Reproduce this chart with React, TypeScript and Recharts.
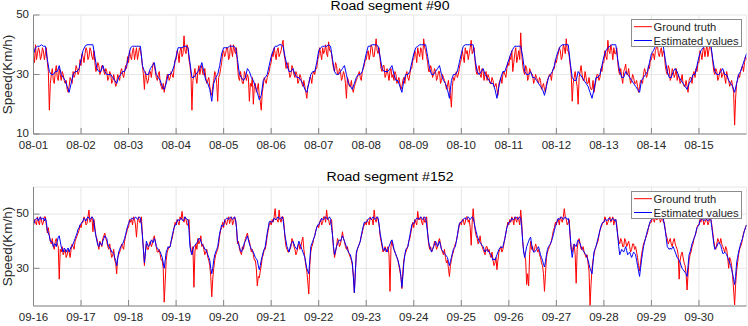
import React from 'react';
import { LineChart, Line, XAxis, YAxis, CartesianGrid, Legend } from 'recharts';

const FONT = '"Liberation Sans", Arial, Helvetica, sans-serif';
const AX = '#858585';
const TXT = '#262626';

const xLabels90 = ['08-01', '08-02', '08-03', '08-04', '08-05', '08-06', '08-07', '08-08', '08-09', '08-10', '08-11', '08-12', '08-13', '08-14', '08-15'];
const xLabels152 = ['09-16', '09-17', '09-18', '09-19', '09-20', '09-21', '09-22', '09-23', '09-24', '09-25', '09-26', '09-27', '09-28', '09-29', '09-30'];
const yTicks90 = [10, 30, 50];
const yTicks152 = [30, 50];
const seriesNames = ['Ground truth', 'Estimated values'];
const titles = ['Road segment #90', 'Road segment #152'];

// Road segment #90 ground truth: values on the hour (08-01 .. 08-15)
const gt90 = [
  [36, 40, 37, 38, 36, 38, 37, 34, 18, 30, 28, 31, 29, 32, 28, 30, 27, 25, 26, 28, 31, 30, 32, 31],
  [33, 36, 37, 38, 36, 38, 35, 34, 32, 33, 31, 33, 30, 31, 29, 30, 28, 28, 27, 29, 31, 30, 31, 32],
  [34, 36, 38, 35, 39, 37, 38, 33, 25, 29, 28, 31, 32, 33, 29, 30, 27, 25, 24, 28, 30, 29, 30, 32],
  [35, 37, 38, 36, 43, 37, 39, 33, 18, 30, 29, 31, 30, 33, 30, 29, 28, 26, 23, 28, 30, 21, 30, 34],
  [38, 37, 39, 36, 38, 40, 37, 33, 28, 29, 27, 30, 30, 21, 26, 20, 27, 25, 23, 18, 26, 28, 29, 31],
  [34, 36, 37, 38, 36, 38, 41.5, 35, 33, 31, 30, 32, 29, 30, 28, 29, 26, 26, 22, 27, 29, 30, 30, 32],
  [36, 37, 39, 38, 37, 41, 38, 34, 31, 33, 30, 31, 29, 30, 22, 28, 26, 25, 26, 28, 30, 29, 31, 33],
  [35, 38, 37, 39, 36, 42, 37, 35, 31, 33, 30, 30, 31, 29, 28, 30, 28, 27, 26, 29, 30, 29, 30, 32],
  [35, 37, 39, 36, 38, 42, 38, 34, 31, 32, 30, 31, 29, 31, 28, 29, 27, 26, 25, 19, 29, 30, 29, 32],
  [35, 36, 39, 38, 37, 41.5, 38, 34, 30, 33, 29, 31, 30, 28, 29, 27, 28, 26, 25, 27, 29, 30, 30, 32],
  [33, 35, 31, 37, 34, 38, 44, 33, 30, 32, 29, 31, 30, 28, 29, 27, 28, 26, 25, 27, 29, 30, 31, 32],
  [34, 37, 38, 36, 39, 42, 38, 33, 21, 29, 28, 20, 31, 30, 28, 29, 27, 26, 25, 24, 28, 30, 29, 31],
  [34, 36, 41.5, 37, 38, 39, 37, 34, 30, 29, 31, 33.5, 30, 29, 28, 29, 27, 26, 26, 28, 30, 31, 30, 32],
  [35, 37, 38, 40, 36, 39, 38, 33, 30, 32, 29, 31, 30, 28, 29, 28, 27, 26, 26, 28, 29, 30, 29, 31],
  [34, 37, 38, 36, 40, 38, 39, 34, 30, 31, 29, 32, 30, 29, 31, 28, 27, 26, 13, 27, 30, 31, 33, 34],
];
// Road segment #90 ground truth: values on the half hour
const gt90Half = [
  [34, 35, 39, 35, 39, 35, 39, 31, 27, 32, 27, 33, 28, 30, 31, 28, 28, 24, 29, 27, 29, 33, 30, 35],
  [37, 34, 39, 35, 39, 36, 38, 31, 34, 30, 33, 31, 32, 28, 31, 27, 30, 26, 30, 28, 32, 29, 33, 36],
  [38, 35, 39, 37, 35, 39, 36, 30, 31, 27, 31, 29, 34, 31, 28, 31, 26, 27, 26, 30, 28, 31, 29, 35],
  [38, 34, 39, 37, 38, 40, 35, 30, 28, 32, 27, 33, 32, 30, 32, 27, 29, 24, 26, 31, 27, 29, 32, 37],
  [36, 39, 35, 40, 36, 38, 39, 29, 31, 27, 31, 28, 29, 27, 29, 26, 24, 27, 21, 24, 29, 27, 30, 33],
  [37, 39, 35, 39, 37, 40, 37, 32, 34, 29, 33, 30, 31, 27, 30, 27, 28, 24, 26, 29, 27, 31, 32, 35],
  [39, 35, 37, 40, 36, 38, 37, 32, 34, 30, 32, 28, 31, 27, 29, 26, 28, 24, 27, 29, 31, 28, 32, 35],
  [37, 35, 40, 36, 39, 38, 39, 32, 33, 29, 32, 28, 32, 30, 31, 27, 29, 25, 28, 27, 31, 28, 32, 35],
  [38, 34, 37, 39, 35, 39, 36, 31, 33, 29, 32, 28, 31, 27, 30, 28, 25, 28, 23, 26, 28, 31, 30, 34],
  [38, 34, 37, 35, 39, 37, 39, 31, 32, 30, 32, 28, 31, 30, 27, 29, 26, 27, 23, 28, 27, 31, 29, 34],
  [36, 38, 34, 39, 36, 35, 37, 31, 33, 28, 32, 30, 27, 30, 28, 29, 25, 27, 24, 28, 30, 28, 32, 35],
  [36, 39, 35, 40, 37, 38, 36, 30, 27, 31, 26, 29, 33, 28, 31, 27, 29, 25, 28, 26, 30, 28, 32, 34],
  [38, 35, 38, 40, 35, 37, 39, 31, 32, 27, 32, 30, 32, 27, 30, 27, 28, 24, 28, 27, 32, 29, 33, 35],
  [37, 35, 39, 37, 38, 36, 37, 31, 33, 28, 32, 29, 32, 30, 27, 30, 26, 28, 24, 29, 27, 31, 32, 34],
  [38, 35, 39, 38, 36, 40, 37, 31, 32, 28, 31, 29, 31, 27, 29, 26, 28, 24, 22, 28, 29, 32, 31, 36],
];
const gt90Last = 35;

// Road segment #90 estimated values: values on the hour
const est90 = [
  [37, 39, 39.5, 39.5, 40, 39.5, 39.5, 35, 31, 30, 30, 31, 31, 33, 30, 29, 28, 26, 24, 27, 30, 31, 31, 32],
  [35, 38, 39.5, 40, 40, 40, 40, 36, 32, 31, 31, 33, 31, 30, 30, 30, 29, 28, 27, 29, 30, 31, 31, 33],
  [36, 39, 39.5, 39.5, 39.5, 39.5, 39.5, 33, 31, 30, 30, 32, 33, 34, 30, 29, 28, 26, 25, 27, 30, 30, 31, 33],
  [36, 39, 39, 39, 39.5, 39.5, 39, 34, 29, 29, 30, 31, 32, 34, 31, 28, 27, 25, 21, 27, 29, 30, 33, 37],
  [39, 39, 39, 39.5, 39.5, 39.5, 39, 35, 30, 29, 28, 29, 32, 31, 29, 28, 26, 24, 21.5, 23, 28, 29, 30, 33],
  [36, 38, 39.5, 39.5, 40, 40, 39.5, 36, 33, 31, 31, 32, 30, 29, 29, 28, 27, 25, 24, 27, 30, 31, 31, 34],
  [38, 39, 39.5, 39.5, 39.5, 40, 39.5, 35, 31, 30, 30, 31, 32, 33, 30, 27, 26, 25, 27, 29, 30, 30, 31, 34],
  [37, 39.5, 39.5, 40, 40, 40, 39.5, 36, 32, 31, 31, 31, 32, 33, 30, 28, 28, 26, 24, 28, 30, 30, 31, 34],
  [37, 39, 39.5, 40, 40, 40, 40, 36, 32, 30, 30, 31, 32, 33, 30, 28, 27, 25, 22, 28, 30, 30, 31, 34],
  [37, 39.5, 40, 40, 40, 40, 40, 35, 31, 30, 31, 32, 30, 29, 28, 27, 27, 25, 22, 26, 29, 31, 31, 33],
  [35, 37, 38.5, 39.5, 39.5, 39.5, 39.5, 36, 31, 30, 30, 31, 29, 29, 28, 27, 26, 25, 23, 26, 29, 30, 31, 33],
  [36, 38, 39.5, 40, 40, 40, 40, 34, 29, 28, 28, 31, 30, 29, 28, 27, 26, 24, 22, 25, 29, 29, 30, 33],
  [36, 38, 39, 39.5, 40, 40, 40, 35, 31, 29, 29, 31, 30, 29, 28, 27, 26, 25, 24, 28, 29, 30, 31, 34],
  [37, 38, 39.5, 39.5, 39.5, 39.5, 39.5, 35, 31, 29, 29, 31, 32, 31, 29, 28, 27, 26, 25, 27, 28, 30, 30, 33],
  [36, 38, 39, 39.5, 40, 40, 40, 35, 31, 30, 30, 31, 32, 30, 30, 28, 27, 26, 24, 27, 30, 31, 33, 35],
];
const est90Last = 37;

// Road segment #152 ground truth: values on the hour (09-16 .. 09-30)
const gt152 = [
  [46, 47, 49, 46, 48, 47, 49, 43, 42, 39, 38, 40, 39, 26, 36, 35, 37, 35, 36, 37, 38, 40, 42, 44],
  [45, 47, 48, 46.5, 51.5, 48, 43.5, 45, 41, 37, 39, 41, 43, 40, 37, 36, 35, 33, 28, 35, 37, 38, 40, 43],
  [45, 47, 46, 48, 41.5, 49, 47, 42, 31, 39, 37, 40, 39, 42, 38, 36, 35, 33, 17.5, 33, 37, 38, 41, 45],
  [46, 47, 49, 51, 47, 48, 46, 40, 35, 23, 39, 41, 40, 38, 37, 36, 34, 31, 19.5, 30, 35, 37, 42, 45],
  [45, 47, 48, 46.5, 49, 47, 48, 39, 37, 35, 37, 41, 43, 40, 36, 35, 33, 23.5, 26.5, 31, 35, 37, 42, 46],
  [46, 47, 52, 48, 51.5, 47, 49, 41, 37, 36, 38, 40, 37, 36, 39, 38, 41.5, 34, 29, 20.5, 36, 39, 42, 45],
  [45, 48, 47, 49, 51.5, 48, 47, 42, 34, 38, 40, 39, 43.5, 40, 37, 36, 34, 31, 21, 35, 38, 40, 43, 46],
  [46, 47, 49, 48, 51.5, 47, 48, 42, 38, 37, 36, 38, 21.5, 40, 37, 35, 33, 29, 22.5, 33, 36, 38, 41, 45],
  [45, 47, 51, 48, 47, 49, 47, 43, 37, 36, 38, 39, 38, 41, 37, 35, 34, 33, 27, 33, 36, 39, 42, 46],
  [46, 48, 47, 49, 48, 38.5, 52, 44, 41, 40, 39, 37, 35, 38, 37, 34, 33, 32, 29.5, 36, 38, 37, 41, 45],
  [46, 47, 48, 49, 47, 48, 51.5, 40, 35, 24, 23.5, 40, 38, 37, 38, 37, 34, 31, 21.5, 34, 37, 39, 42, 45],
  [46, 48, 49, 47, 52, 48, 47, 41, 36, 39, 24.5, 40, 39, 37, 36, 34, 32, 16.3, 30, 35, 38, 40, 44, 46],
  [47, 48, 47, 49, 48, 46, 48, 42, 39, 40, 38, 40, 39, 38, 37, 39, 38, 34, 29, 35, 39, 41, 43, 46],
  [47, 48, 49, 48, 49, 48, 47, 44, 41, 40, 39, 40, 39, 37, 26, 35, 34, 31, 22, 33, 36, 39, 42, 45],
  [46, 47, 48, 47, 48, 47, 48, 43, 38, 39, 40, 41, 38, 36, 37, 30, 33, 27, 16.5, 29, 35, 38, 41, 44],
];
// Road segment #152 ground truth: values on the half hour
const gt152Half = [
  [48, 46, 47, 49, 46, 49, 46, 45, 40, 41, 37, 41, 38, 37, 38, 36, 34, 37, 34, 39, 37, 41, 43, 46],
  [47, 49, 46, 49, 47, 49, 48, 42, 39, 40, 38, 42, 41, 38, 39, 34, 37, 32, 34, 36, 39, 37, 42, 45],
  [48, 48, 49, 46, 47, 47, 49, 37, 36, 37, 39, 38, 41, 40, 36, 37, 33, 30, 25, 36, 38, 40, 43, 47],
  [48, 46, 48, 48, 49, 46, 48, 37, 38, 36, 37, 39, 42, 39, 35, 37, 33, 27, 26, 33, 36, 39, 44, 47],
  [48, 46, 49, 48, 46, 49, 45, 40, 36, 38, 39, 42, 41, 38, 37, 33, 30, 27, 29, 34, 37, 39, 44, 47],
  [48, 49, 48, 47, 48, 49, 46, 38, 36, 37, 41, 38, 35, 38, 37, 40, 37, 31, 25, 31, 38, 41, 44, 46],
  [47, 46, 49, 47, 48, 46, 48, 37, 36, 41, 38, 41, 41, 38, 38, 35, 33, 27, 29, 37, 39, 42, 45, 47],
  [48, 46, 48, 46, 48, 49, 46, 40, 36, 38, 37, 35, 38, 38, 36, 34, 31, 27, 29, 35, 37, 40, 43, 47],
  [48, 46, 48, 49, 46, 47, 49, 39, 38, 37, 40, 37, 40, 39, 36, 37, 32, 30, 31, 35, 38, 40, 44, 47],
  [48, 46, 49, 47, 45, 47, 47, 42, 39, 42, 38, 36, 38, 36, 35, 36, 31, 34, 33, 37, 36, 39, 43, 47],
  [48, 49, 46, 48, 49, 46, 47, 36, 33, 28, 35, 37, 36, 39, 36, 35, 32, 28, 28, 36, 38, 40, 44, 47],
  [48, 46, 48, 49, 49, 46, 48, 37, 38, 35, 37, 41, 37, 38, 35, 35, 29, 24, 33, 37, 39, 42, 45, 47],
  [49, 46, 48, 47, 49, 48, 46, 40, 41, 38, 41, 38, 40, 36, 39, 37, 36, 31, 32, 37, 40, 42, 45, 47],
  [49, 47, 48, 49, 47, 49, 47, 42, 39, 41, 38, 41, 38, 35, 33, 36, 32, 28, 28, 35, 38, 41, 43, 46],
  [48, 49, 46, 48, 46, 49, 46, 40, 37, 41, 39, 39, 37, 38, 34, 34, 31, 22, 24, 32, 37, 39, 43, 45],
];
const gt152Last = 46;

// Road segment #152 estimated values: values on the hour
const est152 = [
  [46, 48, 48.5, 48.5, 48, 48.5, 48.5, 44, 42, 40, 38, 39, 40, 42, 38, 36, 37, 37, 36, 38, 39, 41, 43, 45],
  [46.5, 47.5, 48, 48.5, 48.5, 48.5, 48.5, 44, 40, 38, 39, 40, 42, 41, 38, 37, 36, 34, 31, 36, 38, 39, 41, 44],
  [46.5, 48, 48.5, 48.5, 48.5, 48.5, 48.5, 42, 32, 40, 38, 39, 40, 41, 38, 37, 36, 34, 30, 36, 38, 38, 42, 45],
  [46, 48, 48, 48, 48, 48.5, 48, 38, 35, 38, 39, 40, 41, 39, 38, 37, 35, 33, 28, 33, 36, 38, 43, 46],
  [46, 48, 48.5, 48.5, 48.5, 48.5, 48, 40, 38, 36, 38, 40, 42, 39, 37, 36, 34, 33, 29.5, 33, 36, 38, 43, 47],
  [47, 47.5, 48, 48.5, 48.5, 48.5, 48, 42, 38, 36, 39, 40, 38, 37, 40, 38, 36, 34, 30, 28, 38, 40, 42, 45],
  [46, 47.5, 48, 48.5, 48.5, 48.5, 48, 42, 35, 38, 40, 40, 42, 40, 38, 36, 35, 32, 21, 36, 38, 40, 44, 47],
  [47, 48, 48.5, 48.5, 48.5, 48.5, 48.5, 43, 39, 36.5, 37, 37, 39, 40.5, 37, 35, 33, 30, 23, 32, 37, 38, 42, 46],
  [46.5, 48, 48.5, 48.5, 48.5, 48.5, 48.5, 43, 38, 36, 38, 40, 38, 40, 37, 36, 35, 34, 31, 34, 37, 38, 42, 46.5],
  [47, 48, 48.5, 48.5, 48.5, 48.5, 48.5, 45, 42, 40, 39, 38, 36, 37, 36, 35, 33, 33, 35, 37, 38, 38, 41, 45],
  [47, 47.5, 48, 48.5, 48.5, 48.5, 48.5, 40, 34, 38, 40, 41.5, 37, 36, 37, 38, 35, 33, 30.5, 35, 38, 39, 41, 44],
  [46.5, 48.5, 48.5, 48.5, 48.5, 48.5, 48.5, 42, 34, 39, 38, 40.5, 39, 37, 36, 35, 33, 30, 28, 36, 38, 41, 44, 46.5],
  [47, 48, 48, 48, 48, 48, 48, 42, 35, 37, 36, 38, 35, 36, 34, 36, 35, 31, 27, 33, 38, 41, 44, 46.5],
  [48, 48.5, 49, 49, 49, 49, 48.5, 44, 38, 37, 37, 38, 36, 34, 33, 31, 29.5, 28.5, 27, 35, 37.5, 40, 42, 45],
  [46, 48, 48, 48, 48, 48, 48, 42, 37, 38, 39.5, 38.5, 35.5, 36, 35, 33, 31, 28, 24, 32, 36, 39, 41, 44],
];
// Road segment #152 estimated values: values on the half hour
const est152Half = [
  [47.5, 48.5, 47.5, 49, 48.5, 47.5, 47, 43, 40, 39.5, 39, 38, 41.5, 40, 37, 37.5, 36, 37.5, 37, 38, 40, 42, 44.5, 46],
  [47, 48.5, 47.5, 49, 48, 49, 47, 42, 38.5, 39.5, 38.5, 41, 41.5, 39, 37.5, 36, 35.5, 33, 33.5, 37, 38.5, 40, 42.5, 45.5],
  [47.5, 48.5, 48, 49, 48, 49, 46, 37, 36, 39, 38.5, 40.5, 39.5, 40, 37.5, 36.5, 35, 32, 33, 37, 37.5, 40, 43.5, 46],
  [47.5, 47.5, 48.5, 47.5, 49, 48, 44, 36, 37, 38.5, 39.5, 41, 40, 38.5, 37, 36, 34, 30, 30, 35, 37, 40.5, 44.5, 45.5],
  [47.5, 48.5, 48, 49, 48, 49, 45, 39, 36.5, 37, 39.5, 41, 40.5, 38, 36.5, 35, 33.5, 31, 31, 34.5, 37, 40.5, 45, 47.5],
  [47, 48.5, 48, 49, 48, 49, 45, 40, 37, 37.5, 39.5, 39, 37.5, 38.5, 39, 37, 35, 32, 29, 33, 39, 41, 43.5, 46],
  [47, 48.5, 48, 49, 48, 49, 45, 38, 36.5, 39, 40.5, 41, 41, 39, 37, 35.5, 33.5, 27, 28, 37, 39, 42, 45.5, 47],
  [47.5, 48.5, 48, 49, 48, 49, 46, 41, 37, 37.5, 36, 38, 40, 39, 36, 34, 31.5, 27, 27, 35, 37.5, 40, 44, 46.5],
  [47.5, 48.5, 48, 49, 48, 49, 46, 40, 37, 37, 39, 39, 39, 38.5, 36.5, 35.5, 34.5, 32.5, 32.5, 35.5, 37.5, 40, 44.5, 47],
  [47.5, 48.5, 48, 49, 48, 49, 47, 43.5, 41, 39.5, 38.5, 37, 36.5, 36.5, 35.5, 34, 33.5, 34, 36, 37.5, 37.5, 39.5, 43, 46],
  [47, 48.5, 48, 49, 48, 49, 45, 36, 36, 39, 41, 39, 36, 36.5, 37.5, 36.5, 34, 31.5, 32.5, 37, 38.5, 40, 42.5, 45.5],
  [47.5, 48, 49, 48, 49, 48, 46, 37, 36.5, 38.5, 39.5, 40, 38, 36.5, 35.5, 34, 31.5, 29, 32, 37, 39.5, 42.5, 45.5, 47],
  [48, 47.5, 48.5, 47.5, 48.5, 47.5, 45, 38, 36, 36.5, 37, 36.5, 35.5, 35, 35, 35.5, 33, 29, 30, 35.5, 39.5, 42.5, 45, 47.5],
  [48.5, 49, 48.5, 49.5, 48.5, 49, 46, 41, 37.5, 37.5, 37.5, 37, 35, 33.5, 32, 30, 29, 28, 31, 36, 39, 41, 43.5, 45.5],
  [47.5, 48.5, 47.5, 48.5, 47.5, 48.5, 45, 39, 37.5, 39, 39, 37, 35.5, 35.5, 34, 32, 29.5, 26, 27, 34, 37.5, 40, 42.5, 45],
];
const est152Last = 46;

type Pt = { t: number; v: number };

function hourlyRows(days: number[][], last: number): Pt[] {
  const vals = [...days.flat(), last];
  return vals.map((v, i) => ({ t: i / 24, v }));
}

function halfHourRows(onHour: number[][], onHalf: number[][], last: number): Pt[] {
  const vals: number[] = [];
  onHour.forEach((day, d) => {
    day.forEach((v, h) => {
      vals.push(v, onHalf[d][h]);
    });
  });
  vals.push(last);
  return vals.map((v, i) => ({ t: i / 48, v }));
}

const gtRows90 = halfHourRows(gt90, gt90Half, gt90Last);
const estRows90 = hourlyRows(est90, est90Last);
const gtRows152 = halfHourRows(gt152, gt152Half, gt152Last);
const estRows152 = halfHourRows(est152, est152Half, est152Last);

const TICK = 6;

function BottomTick(props: any) {
  const { x, y, payload, labels, dy } = props;
  return (
    <g>
      <line x1={x} x2={x} y1={y} y2={y - TICK} stroke={AX} strokeWidth={1} />
      <text x={x} y={y + dy} textAnchor="middle" fontSize={11.5} fill={TXT} fontFamily={FONT}>
        {labels[payload.value]}
      </text>
    </g>
  );
}

function TopTick(props: any) {
  const { x, y } = props;
  return <line x1={x} x2={x} y1={y} y2={y + TICK} stroke={AX} strokeWidth={1} />;
}

function LeftTick(props: any) {
  const { x, y, payload } = props;
  return (
    <g>
      <line x1={x} x2={x + TICK} y1={y} y2={y} stroke={AX} strokeWidth={1} />
      <text x={x - 4.5} y={y + 3.2} textAnchor="end" fontSize={11.5} fill={TXT} fontFamily={FONT}>
        {payload.value}
      </text>
    </g>
  );
}

function RightTick(props: any) {
  const { x, y } = props;
  return <line x1={x - TICK} x2={x} y1={y} y2={y} stroke={AX} strokeWidth={1} />;
}

function LegendBox() {
  return (
    <svg width={111} height={28} style={{ display: 'block' }}>
      <rect x={0.5} y={0.5} width={110} height={27} fill="#ffffff" stroke="#8c8c8c" strokeWidth={1} />
      <line x1={3} x2={21} y1={7.7} y2={7.7} stroke="#ff0000" strokeWidth={1} />
      <text x={22.5} y={11.7} fontSize={11.2} fill={TXT} fontFamily={FONT}>{seriesNames[0]}</text>
      <line x1={3} x2={21} y1={21.5} y2={21.5} stroke="#0000ff" strokeWidth={1} />
      <text x={22.5} y={25.6} fontSize={11.2} fill={TXT} fontFamily={FONT}>{seriesNames[1]}</text>
    </svg>
  );
}

type PanelProps = {
  gtRows: Pt[];
  estRows: Pt[];
  labels: string[];
  yTicks: number[];
  yDomain: [number, number];
  marginTop: number;
  xAxisHeight: number;
  labelDy: number;
  legendTop: number;
};

function Panel(p: PanelProps) {
  const xt = p.labels.map((_, i) => i);
  return (
    <LineChart
      width={748}
      height={163}
      margin={{ top: p.marginTop, right: 1.5, bottom: 0, left: 0 }}
      style={{ fontFamily: FONT }}
    >
      <CartesianGrid stroke="#e6e6e6" strokeWidth={1} />
      <XAxis
        dataKey="t"
        type="number"
        domain={[0, 15]}
        allowDataOverflow
        ticks={xt}
        interval={0}
        tickSize={0}
        tickMargin={0}
        height={p.xAxisHeight}
        axisLine={{ stroke: AX }}
        tickLine={false}
        tick={(tp: any) => <BottomTick {...tp} labels={p.labels} dy={p.labelDy} />}
      />
      <XAxis
        xAxisId="top"
        orientation="top"
        dataKey="t"
        type="number"
        domain={[0, 15]}
        allowDataOverflow
        ticks={xt}
        interval={0}
        tickSize={0}
        tickMargin={0}
        height={0}
        axisLine={{ stroke: AX }}
        tickLine={false}
        tick={(tp: any) => <TopTick {...tp} />}
      />
      <YAxis
        type="number"
        domain={p.yDomain}
        allowDataOverflow
        ticks={p.yTicks}
        interval={0}
        width={33.5}
        tickSize={0}
        tickMargin={0}
        axisLine={{ stroke: AX }}
        tickLine={false}
        tick={(tp: any) => <LeftTick {...tp} />}
      />
      <YAxis
        yAxisId="r"
        orientation="right"
        type="number"
        domain={p.yDomain}
        allowDataOverflow
        ticks={p.yTicks}
        interval={0}
        width={0}
        tickSize={0}
        tickMargin={0}
        axisLine={{ stroke: AX }}
        tickLine={false}
        tick={(tp: any) => <RightTick {...tp} />}
      />
      <Legend
        layout="vertical"
        align="center"
        verticalAlign="middle"
        wrapperStyle={{ position: 'absolute', left: 631, top: p.legendTop, width: 111, height: 28, margin: 0, padding: 0 }}
        content={() => <LegendBox />}
      />
      <Line
        data={p.gtRows}
        dataKey="v"
        name={seriesNames[0]}
        type="linear"
        stroke="#ff0000"
        strokeWidth={1}
        dot={false}
        activeDot={false}
        isAnimationActive={false}
      />
      <Line
        data={p.estRows}
        dataKey="v"
        name={seriesNames[1]}
        type="linear"
        stroke="#0000ff"
        strokeWidth={1}
        dot={false}
        activeDot={false}
        isAnimationActive={false}
      />
    </LineChart>
  );
}

export default function App() {
  return (
    <div
      style={{
        position: 'absolute',
        left: 0,
        top: 0,
        width: 748,
        height: 326,
        background: '#ffffff',
        overflow: 'hidden',
        fontFamily: FONT,
      }}
    >
      <div style={{ position: 'absolute', left: 0, top: 0 }}>
        <Panel
          gtRows={gtRows90}
          estRows={estRows90}
          labels={xLabels90}
          yTicks={yTicks90}
          yDomain={[10, 50]}
          marginTop={15}
          xAxisHeight={29}
          labelDy={14.5}
          legendTop={19}
        />
      </div>
      <div style={{ position: 'absolute', left: 0, top: 163 }}>
        <Panel
          gtRows={gtRows152}
          estRows={estRows152}
          labels={xLabels152}
          yTicks={yTicks152}
          yDomain={[16.1, 60]}
          marginTop={24}
          xAxisHeight={20}
          labelDy={15}
          legendTop={28}
        />
      </div>
      <svg
        width={748}
        height={326}
        style={{ position: 'absolute', left: 0, top: 0, pointerEvents: 'none' }}
      >
        <text x={390} y={9.5} textAnchor="middle" fontSize={12.5} fill="#000000" fontFamily={FONT} textLength={119} lengthAdjust="spacingAndGlyphs">
          {titles[0]}
        </text>
        <text x={390} y={181} textAnchor="middle" fontSize={12.5} fill="#000000" fontFamily={FONT} textLength={127} lengthAdjust="spacingAndGlyphs">
          {titles[1]}
        </text>
        <text transform="translate(11.5, 74.5) rotate(-90)" textAnchor="middle" fontSize={13.5} fill={TXT} fontFamily={FONT}>
          Speed(Km/h)
        </text>
        <text transform="translate(11.5, 246.5) rotate(-90)" textAnchor="middle" fontSize={13.5} fill={TXT} fontFamily={FONT}>
          Speed(Km/h)
        </text>
      </svg>
    </div>
  );
}
